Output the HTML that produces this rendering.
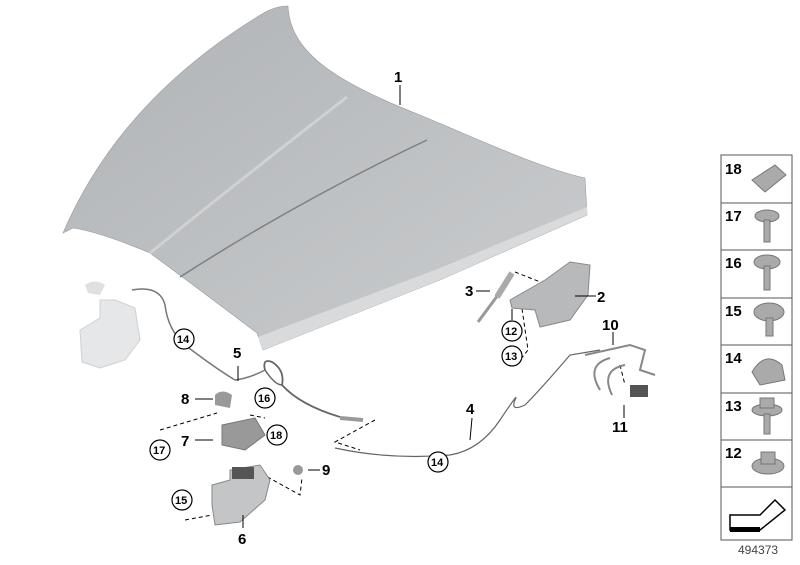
<!DOCTYPE html>
<html><head><style>
body{margin:0;background:#fff;width:800px;height:560px;overflow:hidden}
text{font-family:"Liberation Sans",Arial,sans-serif;font-weight:bold;font-size:15px;fill:#000}
.c text{font-size:11px}
</style></head><body>
<svg width="800" height="560" viewBox="0 0 800 560" xmlns="http://www.w3.org/2000/svg">
<defs>
<linearGradient id="h" x1="0" y1="0" x2="1" y2="1">
<stop offset="0" stop-color="#b0b3b6"/><stop offset="0.5" stop-color="#bdc0c2"/><stop offset="1" stop-color="#cbcdcf"/>
</linearGradient>
</defs>
<!-- hood -->
<path d="M262,14 Q275,6 288,6 C290,50 330,80 420,115 C480,140 540,168 585,178 L587,215 L440,280 L263,350 L257,333 Q200,290 150,253 Q100,232 73,228 L63,233 Q120,100 262,14Z" fill="url(#h)" stroke="#999" stroke-width="0.6"/>
<path d="M263,350 L258,337 L440,268 L587,207 L587,215 L440,280Z" fill="#d8dadc"/>
<path d="M150,253 Q240,180 347,97" stroke="#cfd1d3" stroke-width="3" fill="none"/>
<path d="M180,277 Q300,200 427,140" stroke="#7d8083" stroke-width="1.5" fill="none"/>
<!-- leader 1 -->
<line x1="400" y1="85" x2="400" y2="105" stroke="#000"/>
<text x="394" y="82">1</text>
<!-- left ghost latch assembly -->
<path d="M80,330 L100,318 L100,300 L115,300 L135,308 L140,340 L125,360 L100,368 L82,362Z" fill="#e6e7e8" stroke="#d0d0d0"/>
<path d="M85,285 Q95,278 105,285 L100,295 L88,293Z" fill="#e0e0e0"/>
<path d="M132,290 Q160,285 165,305 Q168,330 185,345 Q215,368 235,380 Q250,378 265,370" stroke="#777" fill="none" stroke-width="1.5"/>
<!-- cable 5 loop -->
<path d="M265,370 Q262,358 272,362 Q285,370 282,385 Q300,405 340,417" stroke="#666" fill="none" stroke-width="1.8"/>
<path d="M265,370 Q275,385 282,385" stroke="#666" fill="none" stroke-width="1.5"/>
<path d="M340,418 L363,420" stroke="#999" stroke-width="4"/>
<path d="M335,448 Q390,460 450,455 Q480,450 500,420 Q520,390 515,400 Q510,412 525,405 Q540,390 570,355 L600,350" stroke="#666" fill="none" stroke-width="1.2"/>
<!-- dashed leaders -->
<g stroke="#000" stroke-dasharray="4,3" fill="none">
<path d="M375,420 L335,442 L360,450"/>
<path d="M520,295 L528,350 L520,360"/>
<path d="M160,430 L217,413"/>
<path d="M250,415 L265,418"/>
<path d="M255,470 L300,495 L302,478"/>
<path d="M185,520 L212,515"/>
<path d="M515,272 L548,285"/>
<path d="M620,365 L625,385"/>
</g>
<!-- gas strut 3 -->
<path d="M478,322 L498,295" stroke="#999" stroke-width="3"/>
<path d="M497,297 L512,273" stroke="#aaa" stroke-width="6"/>
<!-- hinge 2 -->
<path d="M510,300 L545,280 L570,262 L590,265 L588,295 L570,320 L540,327 L535,310 L512,308Z" fill="#b8b9bb" stroke="#888"/>
<!-- hood lock 10/11 -->
<path d="M585,355 L630,345 L645,350 L640,370 L655,375 M600,390 Q585,365 610,358 M612,395 Q600,370 625,365" fill="none" stroke="#888" stroke-width="2"/>
<rect x="630" y="385" width="18" height="12" fill="#555"/>
<!-- latch 7 -->
<path d="M222,425 L255,418 L265,435 L245,450 L222,445Z" fill="#999" stroke="#777"/>
<path d="M215,395 Q222,388 232,395 L230,408 L215,405Z" fill="#999"/>
<!-- bracket 6 -->
<path d="M212,485 L230,480 L230,470 L260,465 L270,480 L265,500 L240,522 L215,525 L212,505Z" fill="#c4c5c6" stroke="#888"/>
<rect x="232" y="467" width="22" height="12" fill="#555"/>
<circle cx="298" cy="470" r="5" fill="#999"/>
<!-- leaders -->
<g stroke="#000">
<line x1="476" y1="291" x2="490" y2="291"/>
<line x1="575" y1="296" x2="596" y2="296"/>
<line x1="613" y1="332" x2="613" y2="345"/>
<line x1="512" y1="309" x2="512" y2="320"/>
<line x1="238" y1="366" x2="238" y2="381"/>
<line x1="195" y1="399" x2="213" y2="399"/>
<line x1="195" y1="440" x2="213" y2="440"/>
<line x1="308" y1="470" x2="320" y2="470"/>
<line x1="472" y1="418" x2="470" y2="440"/>
<line x1="624" y1="405" x2="624" y2="418"/>
<line x1="243" y1="515" x2="243" y2="528"/>
</g>
<text x="465" y="296">3</text>
<text x="597" y="302">2</text>
<text x="602" y="330">10</text>
<text x="233" y="358">5</text>
<text x="181" y="404">8</text>
<text x="181" y="446">7</text>
<text x="322" y="475">9</text>
<text x="466" y="414">4</text>
<text x="612" y="432">11</text>
<text x="238" y="544">6</text>
<g class="c" fill="#fff" stroke="#000" stroke-width="1.2">
<circle cx="184" cy="339" r="10"/><circle cx="512" cy="331" r="10"/><circle cx="512" cy="356" r="10"/>
<circle cx="265" cy="398" r="10"/><circle cx="277" cy="435" r="10"/><circle cx="160" cy="450" r="10"/>
<circle cx="438" cy="462" r="10"/><circle cx="182" cy="500" r="10"/>
</g>
<g class="c">
<text x="177" y="343">14</text><text x="505" y="335">12</text><text x="505" y="360">13</text>
<text x="258" y="402">16</text><text x="270" y="439">18</text><text x="153" y="454">17</text>
<text x="431" y="466">14</text><text x="175" y="504">15</text>
</g>
<!-- right column -->
<g fill="#fff" stroke="#555" stroke-width="1">
<rect x="721" y="155" width="71" height="48"/><rect x="721" y="203" width="71" height="47"/>
<rect x="721" y="250" width="71" height="48"/><rect x="721" y="298" width="71" height="47"/>
<rect x="721" y="345" width="71" height="48"/><rect x="721" y="393" width="71" height="47"/>
<rect x="721" y="440" width="71" height="47"/><rect x="721" y="487" width="71" height="53"/>
</g>
<text x="725" y="174">18</text><text x="725" y="221">17</text><text x="725" y="268">16</text>
<text x="725" y="316">15</text><text x="725" y="363">14</text><text x="725" y="411">13</text><text x="725" y="458">12</text>
<g fill="#aaa" stroke="#777">
<path d="M752,180 L775,165 L786,175 L765,192Z"/>
<ellipse cx="767" cy="216" rx="12" ry="6"/><rect x="764" y="220" width="6" height="22"/>
<ellipse cx="767" cy="262" rx="13" ry="7"/><rect x="764" y="266" width="6" height="24"/>
<ellipse cx="769" cy="312" rx="15" ry="9"/><rect x="766" y="318" width="7" height="18"/>
<path d="M752,372 Q765,350 782,365 L785,380 L760,385Z"/>
<ellipse cx="767" cy="410" rx="15" ry="6"/><rect x="760" y="398" width="14" height="10"/><rect x="764" y="414" width="6" height="20"/>
<ellipse cx="768" cy="466" rx="16" ry="8"/><rect x="761" y="452" width="14" height="12"/>
</g>
<path d="M730,515 L760,515 L775,500 L785,510 L760,530 L730,530Z" fill="#fff" stroke="#000" stroke-width="1.5"/>
<rect x="730" y="527" width="30" height="5" fill="#000"/>
<text x="738" y="554" style="font-weight:normal;font-size:12px;fill:#444">494373</text>
</svg>
</body></html>
